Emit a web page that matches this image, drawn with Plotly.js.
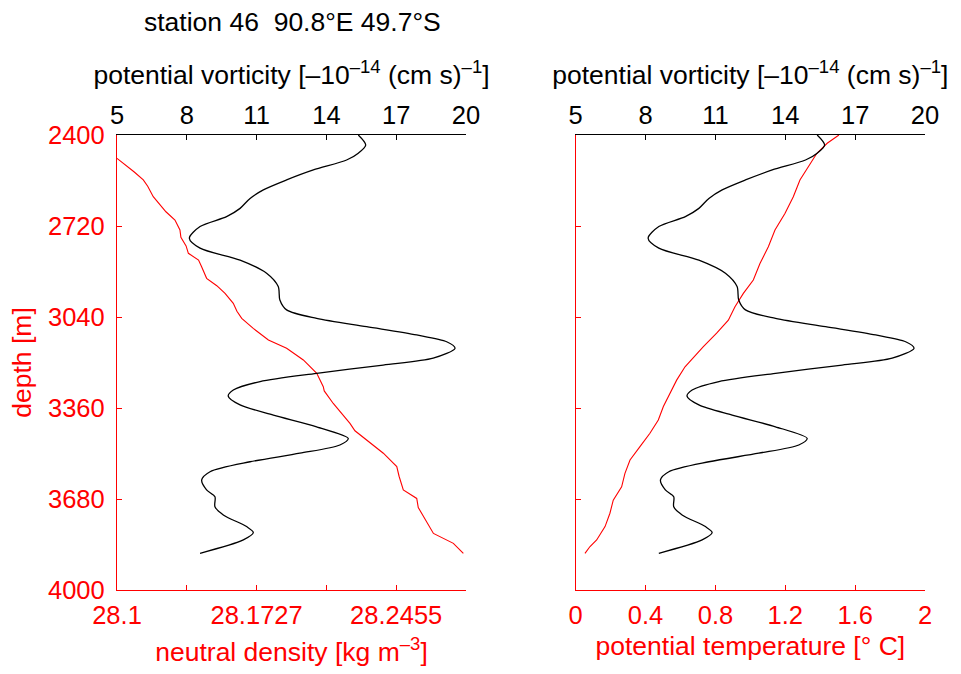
<!DOCTYPE html>
<html><head><meta charset="utf-8">
<script src="https://cdn.plot.ly/plotly-3.0.1.min.js"></script>
<style>body{margin:0;background:#fff}#plot{width:961px;height:674px}</style>
</head><body><div id="plot"></div>
<script>
// Potential vorticity profile (same in both panels)
const pvDepth = [2400,2435,2464,2488,2523,2558,2593,2623,2658,2687,2722,2763,2798,2840,2886,2933,2980,3015,3045,3074,3103,3127,3150,3185,3209,3238,3267,3297,3318,3349,3385,3426,3467,3490,3519,3549,3584,3613,3648,3672,3707,3736,3777,3798,3824,3871];
const pvValue = [15.37,15.69,15.37,14.87,13.44,12.29,11.29,10.72,10.29,9.71,8.57,8.11,8.57,10.29,11.43,11.93,12.0,12.29,13.58,15.73,17.88,19.17,19.53,18.59,16.44,13.58,11.15,10.0,9.78,10.29,11.72,13.58,14.94,14.58,12.86,10.72,9.0,8.64,8.85,9.21,9.21,9.57,10.57,10.86,10.43,8.57];
// Neutral density profile
const rhoDepth = [2482,2500,2517,2530,2558,2580,2617,2646,2670,2699,2734,2760,2790,2816,2840,2863,2904,2930,2957,2992,3020,3045,3080,3121,3150,3191,3238,3285,3300,3344,3414,3440,3473,3519,3566,3600,3648,3678,3710,3742,3801,3836,3871];
const rhoValue = [28.1,28.1035,28.1068,28.109,28.1137,28.1160,28.1189,28.1224,28.1255,28.1302,28.1328,28.1333,28.1360,28.1372,28.1425,28.1441,28.1467,28.1520,28.1563,28.1606,28.1625,28.1650,28.1710,28.1789,28.1884,28.1971,28.2041,28.2075,28.2080,28.2127,28.2214,28.2240,28.2301,28.2388,28.2458,28.2470,28.2492,28.2562,28.2570,28.2597,28.2649,28.2753,28.2805];
// Potential temperature profile
const thDepth = [2400,2429,2465,2511,2558,2617,2676,2734,2793,2852,2910,2957,3004,3051,3097,3144,3185,3215,3262,3308,3355,3402,3449,3496,3543,3590,3637,3684,3730,3777,3824,3847,3871];
const thValue = [1.507,1.440,1.380,1.332,1.284,1.246,1.198,1.141,1.103,1.055,1.017,0.960,0.912,0.874,0.807,0.731,0.673,0.626,0.578,0.540,0.502,0.473,0.425,0.368,0.311,0.282,0.263,0.215,0.196,0.168,0.120,0.082,0.053];

const depthTicks = [2400,2720,3040,3360,3680,4000];
const pvTicks = [5,8,11,14,17,20];
const rhoTicks = [28.1,28.136375,28.17275,28.209125,28.2455,28.281875];
const rhoTickText = ['28.1','','28.1727','','28.2455',''];
const thTicks = [0,0.4,0.8,1.2,1.6,2];
const thTickText = ['0','0.4','0.8','1.2','1.6','2'];

const FONT = 'Liberation Sans, Arial, sans-serif';
const RED = '#ff0000';
const TICK = 25.5, TITLE = 26.5;
const xL = [117/961, 466/961], xR = [575.7/961, 925/961];
const yD = [1-590/674, 1-135/674];

const traces = [
  {x: rhoValue, y: rhoDepth, xaxis:'x', yaxis:'y', mode:'lines', line:{color:RED, width:1.1}},
  {x: pvValue, y: pvDepth, xaxis:'x2', yaxis:'y', mode:'lines', line:{color:'#000', width:1.3, shape:'spline', smoothing:0.8}},
  {x: thValue, y: thDepth, xaxis:'x3', yaxis:'y2', mode:'lines', line:{color:RED, width:1.1}},
  {x: pvValue, y: pvDepth, xaxis:'x4', yaxis:'y2', mode:'lines', line:{color:'#000', width:1.3, shape:'spline', smoothing:0.8}}
];

const tickFont = (c) => ({family: FONT, size: TICK, color: c});
const pvTitle = 'potential vorticity [–10<sup>–14</sup> (cm s)<sup>–1</sup>]';

const bottomAxis = (dom, anchor, range, vals, text, title, so) => ({
  domain: dom, anchor: anchor, range: range, tickmode:'array', tickvals: vals, ticktext: text,
  ticks:'inside', ticklen:5, tickcolor: RED, showline:true, linecolor: RED, linewidth:1.2,
  showgrid:false, zeroline:false, tickfont: tickFont(RED), automargin:false, ticklabelstandoff:2,
  title:{text:title, font:{family:FONT, size:TITLE, color:RED}, standoff:so}
});
const topAxis = (over, anchor) => ({
  overlaying: over, side:'top', anchor: anchor, range:[5,20], tickmode:'array', tickvals: pvTicks,
  ticks:'inside', ticklen:5, tickcolor:'#000', showline:true, linecolor:'#000', linewidth:1.2,
  showgrid:false, zeroline:false, tickfont: tickFont('#000'), automargin:false, ticklabelstandoff:0,
  title:{text: pvTitle, font:{family:FONT, size:TITLE, color:'#000'}, standoff:8}
});
const leftAxis = (dom, anchor, labels, title) => ({
  domain: dom, anchor: anchor, range:[4000,2400], tickmode:'array', tickvals: depthTicks,
  ticks:'inside', ticklen:5, tickcolor: RED, showline:true, linecolor: RED, linewidth:1.2,
  showgrid:false, zeroline:false, showticklabels: labels, tickfont: tickFont(RED), automargin:false,
  ticklabelstandoff:6,
  title:{text:title, font:{family:FONT, size:TITLE, color:RED}, standoff:8}
});
const rightAxis = (over, anchor) => ({
  overlaying: over, side:'right', anchor: anchor, range:[4000,2400], tickmode:'array', tickvals: depthTicks,
  ticks:'inside', ticklen:5, tickcolor:'#300', showline:true, linecolor:'#300', linewidth:1.2,
  showgrid:false, zeroline:false, showticklabels:false, automargin:false
});

const layout = {
  width:961, height:674, margin:{l:0,r:0,t:0,b:0}, showlegend:false,
  paper_bgcolor:'#fff', plot_bgcolor:'#fff', font:{family:FONT, size:TICK},
  xaxis: bottomAxis(xL, 'y', [28.1, 28.281875], rhoTicks, rhoTickText, 'neutral density [kg m<sup>–3</sup>]', 14),
  xaxis2: topAxis('x', 'y'),
  xaxis3: bottomAxis(xR, 'y2', [0, 2], thTicks, thTickText, 'potential temperature [°\u00a0C]', 8),
  xaxis4: topAxis('x3', 'y2'),
  yaxis: leftAxis(yD, 'x', true, 'depth [m]'),
  yaxis2: leftAxis(yD, 'x3', false, ''),
  yaxis3: rightAxis('y', 'x'),
  yaxis4: rightAxis('y2', 'x3'),
  annotations: [
    {text:'station 46\u00a0\u00a090.8°E 49.7°S', xref:'paper', yref:'paper', x:292/961, y:1-22/674,
     xanchor:'center', yanchor:'middle', showarrow:false, font:{family:FONT, size:TITLE, color:'#000'}}
  ]
};
Plotly.newPlot('plot', traces, layout, {displayModeBar:false, staticPlot:true});
</script></body></html>
